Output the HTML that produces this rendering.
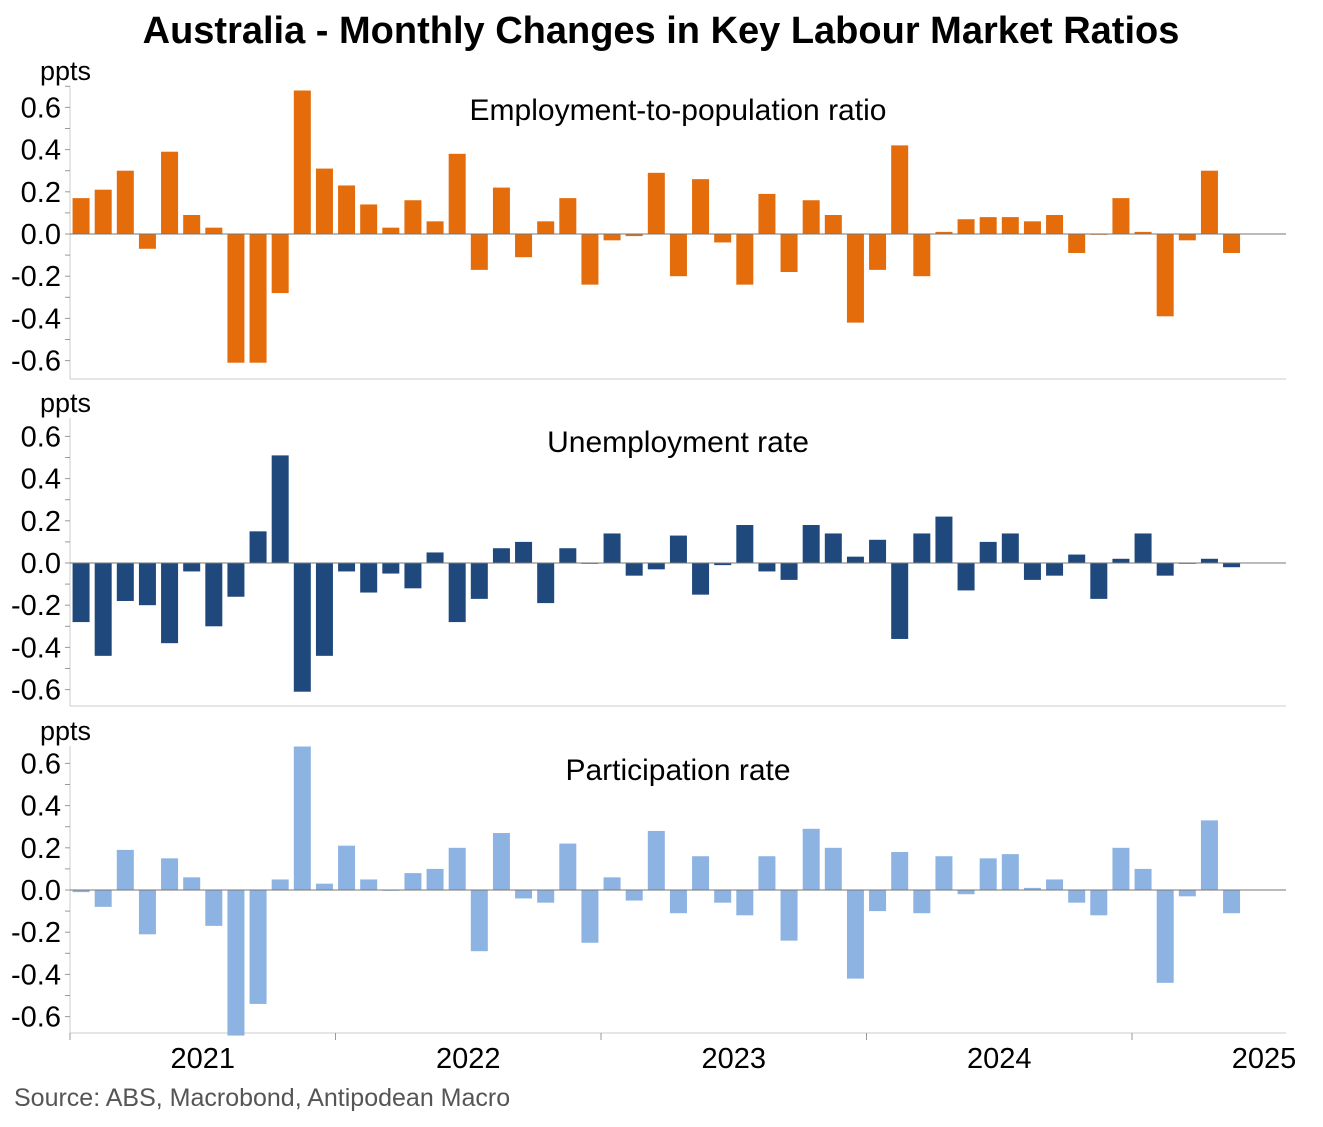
<!DOCTYPE html>
<html><head><meta charset="utf-8"><style>
body{margin:0;background:#fff;}
svg text{font-family:"Liberation Sans",Arial,sans-serif;}
</style></head><body>
<svg id="chart" width="1323" height="1122" viewBox="0 0 1323 1122" xmlns="http://www.w3.org/2000/svg">
<text x="661" y="43" text-anchor="middle" font-size="38" font-weight="bold" fill="#000">Australia - Monthly Changes in Key Labour Market Ratios</text>
<text x="14" y="1106" font-size="25" fill="#555">Source: ABS, Macrobond, Antipodean Macro</text>
<g id="panels"></g>
</svg>
<script>
const months = 53; // Jan 2021 .. May 2025
const empPop = [0.17,0.21,0.30,-0.07,0.39,0.09,0.03,-0.61,-0.61,-0.28,0.68,0.31,0.23,0.14,0.03,0.16,0.06,0.38,-0.17,0.22,-0.11,0.06,0.17,-0.24,-0.03,-0.01,0.29,-0.20,0.26,-0.04,-0.24,0.19,-0.18,0.16,0.09,-0.42,-0.17,0.42,-0.20,0.01,0.07,0.08,0.08,0.06,0.09,-0.09,0.00,0.17,0.01,-0.39,-0.03,0.30,-0.09];
const unemp = [-0.28,-0.44,-0.18,-0.20,-0.38,-0.04,-0.30,-0.16,0.15,0.51,-0.61,-0.44,-0.04,-0.14,-0.05,-0.12,0.05,-0.28,-0.17,0.07,0.10,-0.19,0.07,0.00,0.14,-0.06,-0.03,0.13,-0.15,-0.01,0.18,-0.04,-0.08,0.18,0.14,0.03,0.11,-0.36,0.14,0.22,-0.13,0.10,0.14,-0.08,-0.06,0.04,-0.17,0.02,0.14,-0.06,0.00,0.02,-0.02];
const partic = [-0.01,-0.08,0.19,-0.21,0.15,0.06,-0.17,-0.69,-0.54,0.05,0.68,0.03,0.21,0.05,0.00,0.08,0.10,0.20,-0.29,0.27,-0.04,-0.06,0.22,-0.25,0.06,-0.05,0.28,-0.11,0.16,-0.06,-0.12,0.16,-0.24,0.29,0.20,-0.42,-0.10,0.18,-0.11,0.16,-0.02,0.15,0.17,0.01,0.05,-0.06,-0.12,0.20,0.10,-0.44,-0.03,0.33,-0.11];
const yTicks = [-0.6,-0.4,-0.2,0.0,0.2,0.4,0.6];
const yearLabels = ["2021","2022","2023","2024","2025"];
const panelTitles = ["Employment-to-population ratio","Unemployment rate","Participation rate"];
const seriesList = [empPop, unemp, partic];

const NS="http://www.w3.org/2000/svg";
const root=document.getElementById('panels');
function mk(tag,attrs,parent){const e=document.createElementNS(NS,tag);for(const k in attrs)e.setAttribute(k,attrs[k]);(parent||root).appendChild(e);return e;}
const x0=70,x1=1286,monthW=(1132-70)/48;
const xScale=i=>x0+monthW*(i+0.5);
const panels=[{zero:234,top:86,bottom:379,color:"#e46c0a",name:"employment-to-population"},
{zero:563,top:418,bottom:706,color:"#1f497d",name:"unemployment-rate"},
{zero:890,top:746,bottom:1033,color:"#8db3e2",name:"participation-rate"}];
const ppu=211;
panels.forEach((p,pi)=>{
  const g=mk('g',{});
  
  
  const y=v=>p.zero-v*ppu;
  const ul=mk('text',{x:40,y:p.top-6,'font-size':27,fill:'#000'},g);ul.textContent='ppts';
  
  
  const t=mk('text',{x:678,y:p.top+34,'font-size':30,'text-anchor':'middle',fill:'#000'},g);t.textContent=panelTitles[pi];
  
  
  mk('line',{x1:x0,x2:x0,y1:p.top,y2:p.bottom,stroke:'#ccc','stroke-width':1},g);
  mk('line',{x1:x0,x2:x1,y1:p.bottom,y2:p.bottom,stroke:'#ccc','stroke-width':1},g);
  for(let v=-0.7;v<=0.71;v+=0.1){const yy=y(v);if(yy<p.top-1||yy>p.bottom+1)continue;mk('line',{x1:x0-5,x2:x0,y1:yy,y2:yy,stroke:'#999','stroke-width':1},g);}
  yTicks.forEach(v=>{const tl=mk('text',{x:61,y:y(v)+10,'font-size':29,'text-anchor':'end',fill:'#000'},g);tl.textContent=v.toFixed(1);
    
    });
  seriesList[pi].forEach((v,i)=>{
    const cx=xScale(i),w=17;
    const r=mk('rect',{x:cx-w/2,y:Math.min(y(v),p.zero),width:w,height:Math.max(Math.abs(y(v)-p.zero),0.8),fill:p.color},g);
    
    
  });
  mk('line',{x1:x0,x2:x1,y1:p.zero,y2:p.zero,stroke:'#777','stroke-width':1},g);
});
for(let k=0;k<5;k++){const tx=x0+monthW*12*k;mk('line',{x1:tx,x2:tx,y1:1033,y2:1040,stroke:'#999'});}
yearLabels.forEach((l,k)=>{let tx=x0+monthW*12*(k+0.5);if(k===4)tx=1264;
  const tl=mk('text',{x:tx,y:1068,'font-size':29,'text-anchor':'middle',fill:'#000'});tl.textContent=l;
  
  });
</script>
</body></html>
